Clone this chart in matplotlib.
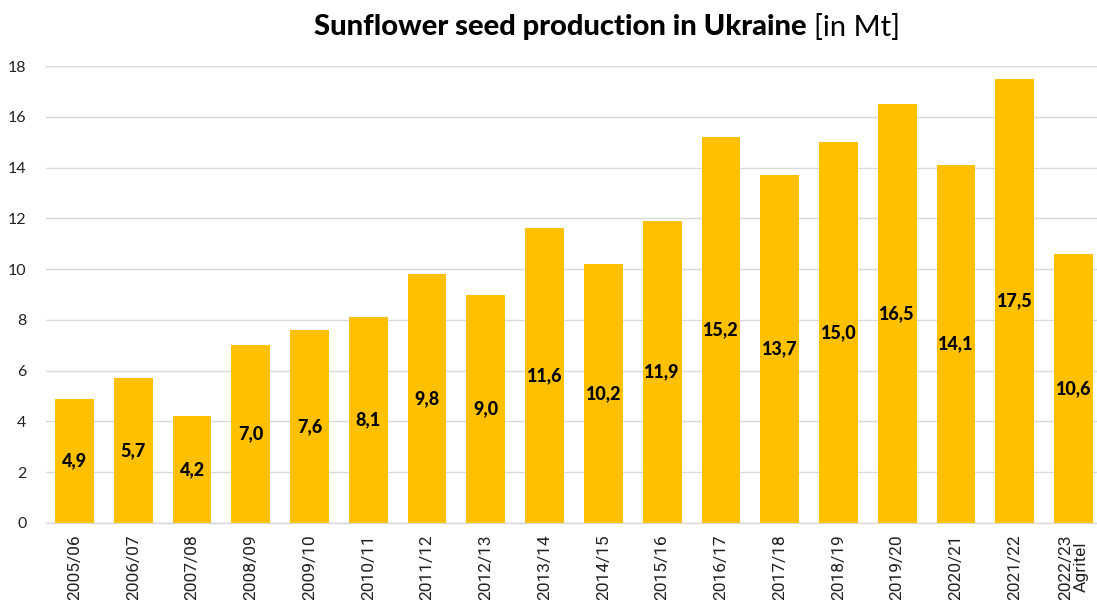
import matplotlib
matplotlib.use("Agg")
import matplotlib.pyplot as plt

seasons = ["2005/06", "2006/07", "2007/08", "2008/09", "2009/10", "2010/11",
           "2011/12", "2012/13", "2013/14", "2014/15", "2015/16", "2016/17",
           "2017/18", "2018/19", "2019/20", "2020/21", "2021/22", "2022/23\nAgritel"]
production = [4.9, 5.7, 4.2, 7.0, 7.6, 8.1, 9.8, 9.0, 11.6, 10.2, 11.9, 15.2,
              13.7, 15.0, 16.5, 14.1, 17.5, 10.6]
yticks = [0, 2, 4, 6, 8, 10, 12, 14, 16, 18]

plt.rcParams['font.family'] = ['Lato', 'DejaVu Sans']

fig = plt.figure(figsize=(10.97, 6.0), dpi=100)
ax = fig.add_axes([46/1097, 77/600, 1051/1097, 457/600])

x = list(range(len(seasons)))
ax.bar(x, production, width=0.66, color="#FFC000", zorder=3)

for xi, v in zip(x, production):
    ax.text(xi, v / 2, f"{v:.1f}".replace(".", ","), ha="center", va="center",
            fontsize=13, fontweight="black", color="black", zorder=4)

ax.set_xlim(-0.485, 17.4)
ax.set_ylim(0, 18)
ax.set_yticks(yticks)
ax.set_yticklabels([str(t) for t in yticks], fontsize=11.5, color="#222222")
ax.set_xticks(x)
ax.set_xticklabels(seasons, rotation=90, fontsize=12.5, color="#222222",
                   linespacing=1.0, family=['Roboto', 'DejaVu Sans'])
ax.tick_params(axis="both", length=0)
ax.tick_params(axis="y", pad=14)
ax.tick_params(axis="x", pad=8)
ax.grid(axis="y", color="#D9D9D9", linewidth=1.0, zorder=0)
for s in ["top", "right", "left"]:
    ax.spines[s].set_visible(False)
ax.spines["bottom"].set_color("#D9D9D9")
ax.spines["bottom"].set_linewidth(1.0)

fig.text(0.735, 0.955, "Sunflower seed production in Ukraine", ha="right",
         va="center", fontsize=21, fontweight="black", color="black")
fig.text(0.742, 0.955, "[in Mt]", ha="left", va="center", fontsize=21,
         fontweight="normal", color="black")

fig.savefig("out.png", dpi=100)
